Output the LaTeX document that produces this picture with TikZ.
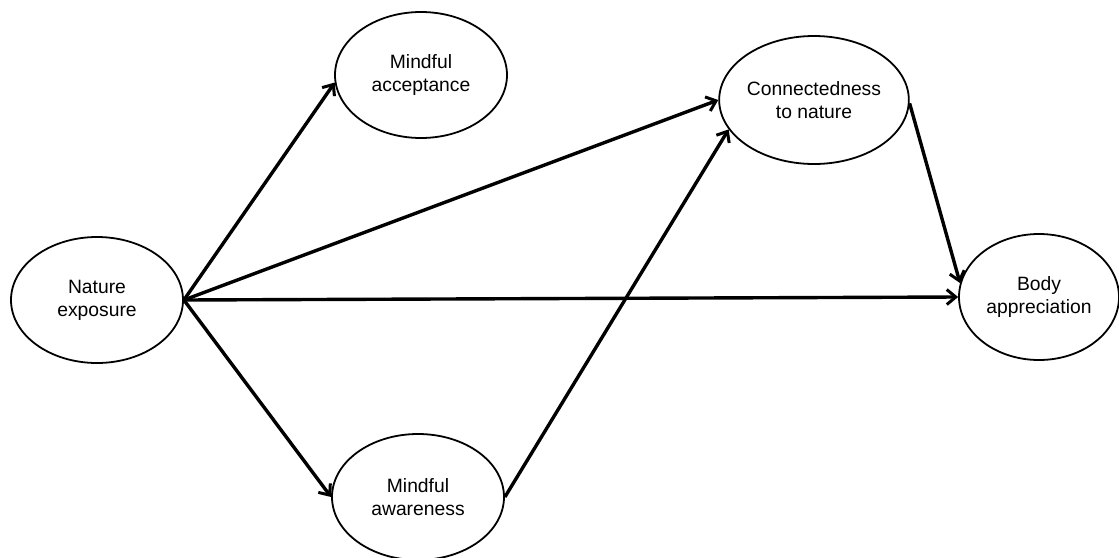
\documentclass[tikz,border=0pt]{standalone}
\usepackage{fontspec}
\setmainfont{Liberation Sans}
\usetikzlibrary{shapes.geometric,arrows.meta}
\begin{document}
\begin{tikzpicture}[x=1pt,y=-1pt,
  var/.style={draw=black, line width=1.8pt, ellipse, inner sep=0pt,
    minimum width=172pt, minimum height=126pt, align=center,
    font=\fontsize{19.3}{23}\selectfont},
  path/.style={line width=3.4pt, -{Straight Barb[length=9pt,width=15pt,line width=3pt]}}]
\useasboundingbox (0,0) rectangle (1119,557);
\node[var] (nat) at (97,300) {Nature\\exposure};
\node[var] (acc) at (421,75) {Mindful\\acceptance};
\node[var] (aw) at (418,497) {Mindful\\awareness};
\node[var, minimum height=128pt] (con) at (814,100) {Connectedness\\to nature};
\node[var, minimum width=160pt] (body) at (1039,297) {Body\\appreciation};
\draw[path] (nat.east) -- (acc.185);
\draw[path] (nat.east) -- (con.180);
\draw[path] (nat.east) -- (body.west);
\draw[path] (nat.east) -- (aw.west);
\draw[path] (aw.east) -- (con.199);
\draw[path] (con.358) -- (body.170);
\end{tikzpicture}
\end{document}
